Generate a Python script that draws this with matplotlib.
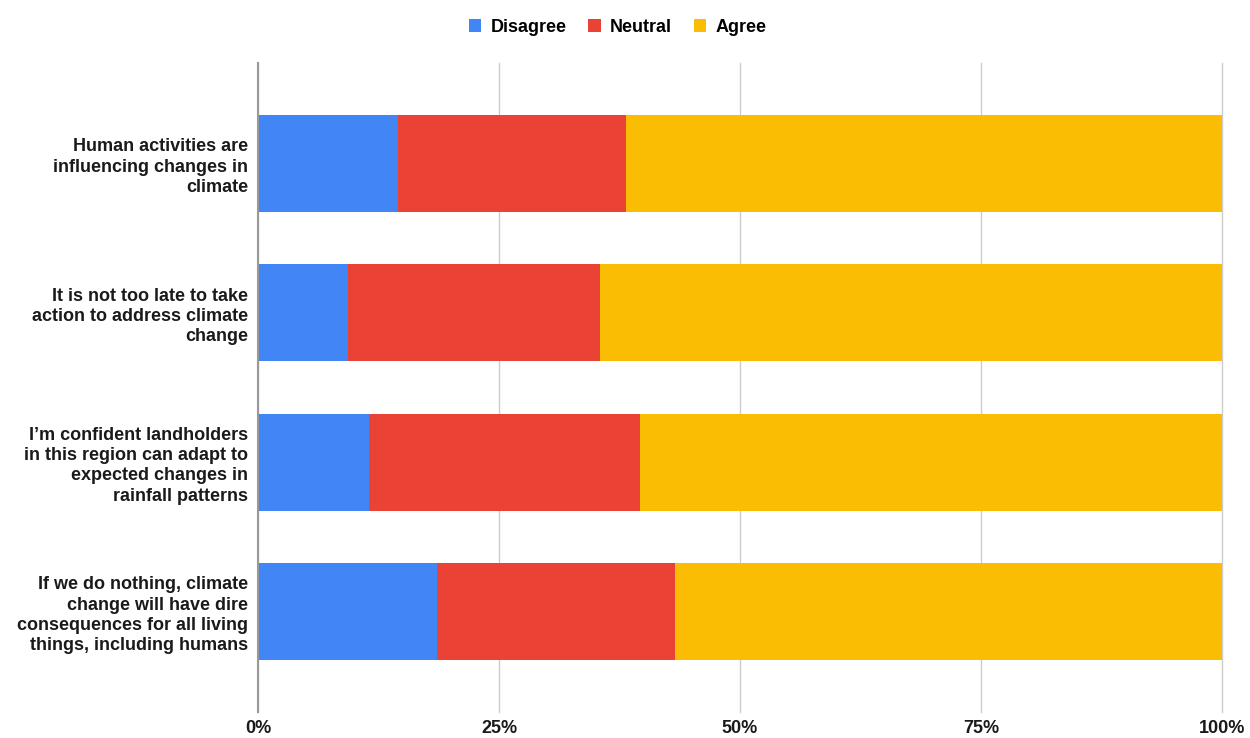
import matplotlib.pyplot as plt
from matplotlib.ticker import FuncFormatter

plt.rcParams['font.family'] = ['Liberation Sans', 'DejaVu Sans']

statements = [
    "Human activities are\ninfluencing changes in\nclimate",
    "It is not too late to take\naction to address climate\nchange",
    "I\u2019m confident landholders\nin this region can adapt to\nexpected changes in\nrainfall patterns",
    "If we do nothing, climate\nchange will have dire\nconsequences for all living\nthings, including humans",
]
disagree = [14.5, 9.3, 11.5, 18.6]
neutral = [23.7, 26.2, 28.1, 24.7]
agree = [61.8, 64.5, 60.4, 56.7]

series = ["Disagree", "Neutral", "Agree"]
colors = ["#4285F4", "#EA4335", "#FBBC04"]

fig = plt.figure(figsize=(12.5, 7.38), dpi=100)
ax = fig.add_axes([0.2064, 0.0352, 0.7712, 0.8794])

ypos = list(range(len(statements)))
left = [0] * len(statements)
for name, vals, c in zip(series, [disagree, neutral, agree], colors):
    ax.barh(ypos, vals, left=left, height=0.65, color=c, label=name, zorder=3)
    left = [l + v for l, v in zip(left, vals)]

ax.set_xlim(0, 100)
ax.set_ylim(len(statements) - 1 + 0.673, -0.673)
ax.set_xticks([0, 25, 50, 75, 100])
ax.xaxis.set_major_formatter(FuncFormatter(lambda v, p: f"{v:.0f}%"))
ax.set_yticks(ypos)
ax.set_yticklabels(statements, fontsize=13, fontweight='bold', color='#1a1a1a',
                   linespacing=1.25)
for lab in ax.get_xticklabels():
    lab.set_fontsize(13)
    lab.set_fontweight('bold')
    lab.set_color('#1a1a1a')
ax.tick_params(axis='both', length=0)
ax.tick_params(axis='y', pad=7)
ax.tick_params(axis='x', pad=6)

ax.grid(axis='x', color='#cccccc', linewidth=1, zorder=0)
for gl in ax.get_xgridlines():
    gl.set_clip_on(False)
for s in ['top', 'right', 'bottom']:
    ax.spines[s].set_visible(False)
ax.spines['left'].set_color('#999999')
ax.spines['left'].set_linewidth(1.5)
ax.spines['left'].set_zorder(4)

fig.legend(loc='center', bbox_to_anchor=(0.494, 0.963), ncol=3, frameon=False,
           prop={'size': 13, 'weight': 'bold'}, handlelength=0.7, handleheight=0.7,
           handletextpad=0.5, columnspacing=1.2)

fig.savefig("out.png", dpi=100)
